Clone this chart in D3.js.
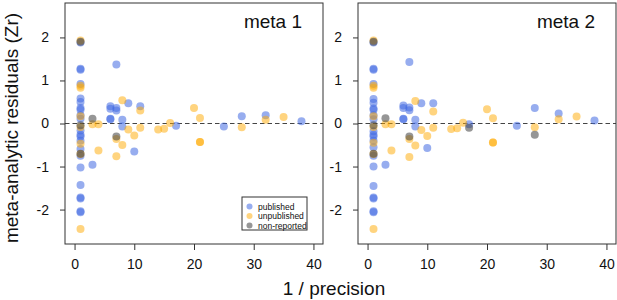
<!DOCTYPE html>
<html>
<head>
<meta charset="utf-8">
<script src="https://cdn.jsdelivr.net/npm/d3@7"></script>
<style>
  body { margin: 0; background: #fff; }
  text { font-family: "Liberation Sans", Arial, sans-serif; fill: #111; }
</style>
</head>
<body>
<div id="chart-area"></div>
<script>
/* Data: [1/precision, residual] pairs */
var panelTitles = ["meta 1", "meta 2"];
var xTicks = [0, 10, 20, 30, 40];
var yTicks = [-2, -1, 0, 1, 2];
var legendLabels = ["published", "unpublished", "non-reported"];

var meta1Published = [
  [1, 1.88], [1, 1.27], [1, 1.25], [1, 0.92], [1, 0.58], [1, 0.50], [1, 0.36], [1, 0.32],
  [1, 0.19], [1, 0.11], [1, -0.16], [1, -0.26], [1, -0.30], [1, -0.40], [1, -0.59],
  [1, -0.75], [1, -1.02], [1, -1.43], [1, -1.74], [1, -1.72], [1, -2.06], [1, -2.04],
  [3, -0.96], [6, 0.40], [6, 0.34], [6, 0.11], [6, 0.10], [7, 1.37], [7, 0.36], [7, 0.30],
  [8, 0.09], [8, -0.07], [9, 0.47], [10, -0.65], [11, 0.40], [17, -0.05], [25, -0.07],
  [28, 0.17], [32, 0.19], [38, 0.05]
];
var meta1Unpublished = [
  [1, 1.93], [1, 0.88], [1, 0.83], [1, 0.17], [1, -0.08], [1, -0.47], [1, -0.71], [1, -2.45],
  [3, -0.02], [4, -0.02], [4, -0.63], [7, -0.36], [7, -0.76], [8, 0.54], [8, -0.50],
  [9, -0.14], [10, -0.28], [11, 0.30], [11, -0.10], [14, -0.14], [15, -0.12], [16, 0.01],
  [20, 0.36], [21, 0.13], [21, -0.43], [21, -0.43], [28, -0.09], [32, 0.09], [35, 0.15]
];
var meta1NonReported = [
  [1, 1.90], [1, -0.04], [1, -0.70], [3, 0.11], [7, -0.30]
];

var meta2Published = [
  [1, 1.88], [1, 1.27], [1, 1.25], [1, 0.92], [1, 0.57], [1, 0.48], [1, 0.35], [1, 0.32],
  [1, 0.19], [1, 0.10], [1, -0.18], [1, -0.26], [1, -0.30], [1, -0.40], [1, -0.55],
  [1, -0.75], [1, -1.00], [1, -1.45], [1, -1.74], [1, -1.72], [1, -2.06], [1, -2.04],
  [3, -0.96], [6, 0.42], [6, 0.36], [6, 0.11], [6, 0.10], [7, 1.43], [7, 0.37], [7, 0.31],
  [8, 0.09], [8, -0.07], [9, 0.47], [10, -0.57], [11, 0.47], [17, -0.02], [25, -0.05],
  [28, 0.36], [32, 0.23], [38, 0.07]
];
var meta2Unpublished = [
  [1, 1.93], [1, 0.88], [1, 0.83], [1, 0.17], [1, -0.08], [1, -0.45], [1, -0.71], [1, -2.45],
  [3, -0.02], [4, -0.02], [4, -0.63], [7, -0.36], [7, -0.78], [8, 0.52], [8, -0.51],
  [9, -0.15], [10, -0.29], [11, 0.28], [11, -0.10], [14, -0.13], [15, -0.11], [16, 0.02],
  [20, 0.33], [21, 0.12], [21, -0.44], [21, -0.44], [28, -0.09], [32, 0.10], [35, 0.16]
];
var meta2NonReported = [
  [1, 1.90], [1, -0.04], [1, -0.70], [3, 0.12], [7, -0.30], [17, -0.10], [28, -0.26]
];

var panels = [
  { title: panelTitles[0], left: 65, series: [meta1Published, meta1Unpublished, meta1NonReported] },
  { title: panelTitles[1], left: 358, series: [meta2Published, meta2Unpublished, meta2NonReported] }
];

var colors = ["rgba(65,105,225,0.55)", "rgba(255,170,0,0.5)", "rgba(64,64,64,0.55)"];

/* Sizes */
var W = 617, H = 300;
var boxW = 258, boxTop = 3, boxBottom = 244;

var svg = d3.select("#chart-area").append("svg")
  .attr("width", W)
  .attr("height", H);

var y = d3.scaleLinear().domain([-2.8, 2.8]).range([boxBottom, boxTop]);

panels.forEach(function(p, i) {
  var x = d3.scaleLinear().domain([-1.6, 41.6]).range([p.left, p.left + boxW]);

  var g = svg.append("g");

  // dashed zero line
  g.append("line")
    .attr("x1", p.left).attr("x2", p.left + boxW)
    .attr("y1", y(0)).attr("y2", y(0))
    .attr("stroke", "#444")
    .attr("stroke-width", 1.2)
    .attr("stroke-dasharray", "4.5,3");

  // points, drawn series by series
  p.series.forEach(function(s, k) {
    g.selectAll(".pt" + k)
      .data(s)
      .enter()
      .append("circle")
        .attr("class", "pt" + k)
        .attr("cx", function(d) { return x(d[0]); })
        .attr("cy", function(d) { return y(d[1]); })
        .attr("r", 4)
        .attr("fill", colors[k]);
  });

  // box
  g.append("rect")
    .attr("x", p.left).attr("y", boxTop)
    .attr("width", boxW).attr("height", boxBottom - boxTop)
    .attr("fill", "none")
    .attr("stroke", "#333");

  // axes
  var xAxisCall = d3.axisBottom(x).tickValues(xTicks).tickSize(6).tickPadding(9);
  var xa = g.append("g")
    .attr("transform", "translate(0," + boxBottom + ")")
    .call(xAxisCall);
  xa.select(".domain").remove();
  xa.selectAll("text").attr("font-size", "14px").attr("font-family", "Liberation Sans, Arial, sans-serif");
  xa.selectAll("line").attr("stroke", "#333");

  var yAxisCall = d3.axisLeft(y).tickValues(yTicks).tickSize(5).tickPadding(11)
    .tickFormat(function(d) { return d < 0 ? "-" + Math.abs(d) : d; });
  var ya = g.append("g")
    .attr("transform", "translate(" + p.left + ",0)")
    .call(yAxisCall);
  ya.select(".domain").remove();
  ya.selectAll("text").attr("font-size", "14px").attr("font-family", "Liberation Sans, Arial, sans-serif");
  ya.selectAll("line").attr("stroke", "#333");

  // panel title
  g.append("text")
    .attr("x", p.left + boxW - 21)
    .attr("y", 28)
    .attr("text-anchor", "end")
    .attr("font-size", "19px")
    .text(p.title);
});

/* Legend (left panel) */
var lg = svg.append("g").attr("transform", "translate(242,197)");
lg.append("rect")
  .attr("width", 65).attr("height", 33)
  .attr("fill", "#fff")
  .attr("stroke", "#333");
legendLabels.forEach(function(l, k) {
  lg.append("circle")
    .attr("cx", 7.5).attr("cy", 9.5 + k * 9.5)
    .attr("r", 3)
    .attr("fill", colors[k]);
  lg.append("text")
    .attr("x", 16).attr("y", 12.5 + k * 9.5)
    .attr("font-size", "8.5px")
    .text(l);
});

/* Axis titles */
svg.append("text")
  .attr("x", 334)
  .attr("y", 295)
  .attr("text-anchor", "middle")
  .attr("font-size", "19px")
  .text("1 / precision");

svg.append("text")
  .attr("transform", "translate(18," + 128 + ") rotate(-90)")
  .attr("text-anchor", "middle")
  .attr("font-size", "19px")
  .text("meta-analytic residuals (Zr)");
</script>
</body>
</html>
